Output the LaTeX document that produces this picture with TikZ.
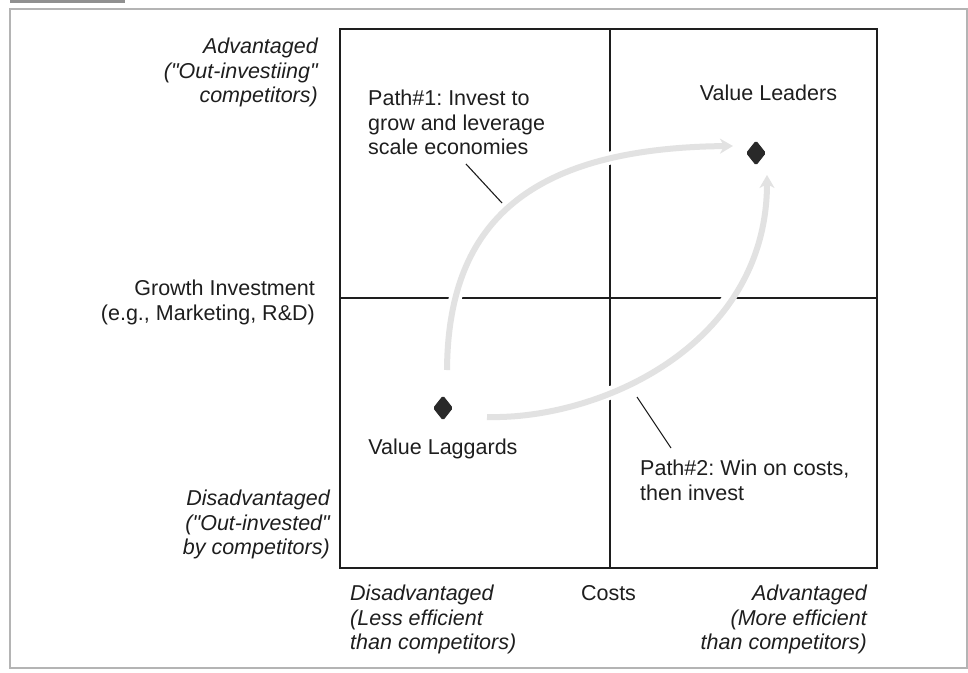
\documentclass[tikz,border=0pt]{standalone}
\usepackage{fontspec}
\setmainfont{Liberation Sans}
\usetikzlibrary{arrows.meta,shapes.geometric}
\frenchspacing
\definecolor{ink}{HTML}{1E1E1E}
\definecolor{pathgray}{HTML}{E2E2E2}
\definecolor{framegray}{HTML}{B4B4B4}
\newcommand{\dq}{\textquotedbl}
\tikzset{
  label text/.style={inner sep=0pt, text=ink, font=\fontsize{21.5}{24.5}\selectfont},
  axis text/.style={label text, font=\fontsize{21.5}{24.5}\selectfont\itshape},
  gridline/.style={draw=ink, line width=1.4pt},
  marker/.style={diamond, fill=ink!95, draw=ink!95, line width=1pt, rounded corners=1.5pt,
    minimum width=19pt, minimum height=24pt, inner sep=0pt},
  leader/.style={draw=ink, line width=1.1pt},
  halo/.style={draw=white, line width=13pt},
  move/.style={draw=pathgray, line width=6pt,
    -{Stealth[length=13pt, width=15pt, inset=4pt]}},
}
\begin{document}
\begin{tikzpicture}[x=1pt, y=-1pt]
  \useasboundingbox (0,0) rectangle (968,672);

  % page frame with its tab
  \fill[framegray!80!black] (10,0) rectangle (125,3);
  \draw[framegray, line width=1.3pt] (10,9) rectangle (967,668);

  % the 2x2 grid
  \coordinate (tl) at (340,29);
  \coordinate (br) at (877,568);
  \draw[gridline] (tl) rectangle (br);
  \draw[gridline] (610,29) -- (610,568);
  \draw[gridline] (340,298) -- (877,298);

  % end points of the two paths
  \coordinate (p1s) at (447,370);
  \coordinate (p1e) at (733,146);
  \coordinate (p2s) at (487,417);
  \coordinate (p2e) at (767,175);

  % path 1: invest first, then scale
  \draw[halo] (p1s) .. controls (448,230) and (520,148) .. ([xshift=-10]p1e);
  \draw[move] (p1s) .. controls (448,230) and (520,148) .. (p1e);
  % path 2: costs first, then invest
  \draw[halo] (p2s) .. controls (600,420) and (767,345) .. ([yshift=10]p2e);
  \draw[move] (p2s) .. controls (600,420) and (767,345) .. (p2e);

  % positions on the grid
  \node[marker] (leader) at (756,153) {};
  \node[marker] (laggard) at (443,408) {};
  \node[label text, anchor=base] (leadtxt) at (768.5,100.5) {Value Leaders};
  \node[label text, anchor=base] (lagtxt) at (443,454.5) {Value Laggards};

  % path captions and their leader lines
  \node[label text, anchor=north west, align=left] (cap1) at (368,90)
    {Path\#1: Invest to\\grow and leverage\\scale economies};
  \node[label text, anchor=north west, align=left] (cap2) at (640,460)
    {Path\#2: Win on costs,\\then invest};
  \coordinate (l1a) at (466,164);
  \coordinate (l1b) at (502,203);
  \coordinate (l2a) at (637,397);
  \coordinate (l2b) at (671,448);
  \draw[leader] (l1a) -- (l1b);
  \draw[leader] (l2a) -- (l2b);

  % vertical axis labels
  \node[axis text, anchor=north east, align=right] (yhi) at (318,38)
    {Advantaged\\(\dq Out-investiing\dq\\competitors)};
  \node[label text, anchor=north east, align=right] (ytitle) at (315,280)
    {Growth Investment\\(e.g., Marketing, R\&D)};
  \node[axis text, anchor=north east, align=right] (ylo) at (330,490)
    {Disadvantaged\\(\dq Out-invested\dq\\by competitors)};

  % horizontal axis labels
  \node[axis text, anchor=north west, align=left] (xlo) at (350,585)
    {Disadvantaged\\(Less efficient\\than competitors)};
  \node[label text, anchor=base] (xtitle) at (608.5,600.5) {Costs};
  \node[axis text, anchor=north east, align=right] (xhi) at (867,585)
    {Advantaged\\(More efficient\\than competitors)};
\end{tikzpicture}
\end{document}
